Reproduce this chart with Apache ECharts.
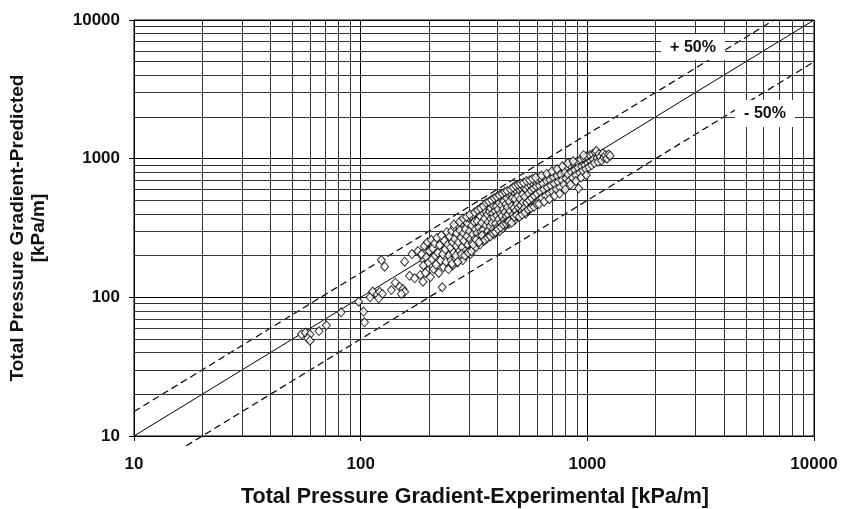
<!DOCTYPE html>
<html><head><meta charset="utf-8">
<script src="https://cdn.jsdelivr.net/npm/echarts@6/dist/echarts.min.js"></script>
<style>html,body{margin:0;padding:0;background:#fff}#c{width:842px;height:509px}</style>
</head><body><div id="c"></div>
<script>
// ---- data ----
var axisTicks = [10, 100, 1000, 10000];
var minorMultipliers = [2, 3, 4, 5, 6, 7, 8, 9];
var perfectLine = [[10, 10], [10000, 10000]];
var plus50Line = [[10, 15], [6667, 10000]];
var minus50Line = [[17, 8.5], [10000, 5000]];
var lowPoints = [[54.8,54.1],[57,55.6],[59.8,54.1],[58.4,50.6],[59.8,48.7],[65.5,57.1],[70.6,62.8],[82,78],[98,93],[103,79],[104,66],[110,100],[113,110],[118,105]];
var midPoints = [[123.4,185.8],[127.6,166.2],[156.3,180.6],[168.4,205.3],[179,215.8],[185.3,201.8],[193.6,213.3],[195,241],[189.7,185.8],[192.2,171],[164.4,143.1],[173,137.1],[183.4,144.9],[188.3,129.6],[142.2,127.4],[148.6,119.2],[153.7,114.8],[136.6,112.9],[121.3,109.7],[124.6,105.7],[120.1,98.4],[156.3,109.7],[151.2,105.7]];
var bandPoints = [
[186,205],[189,170],[191,235],[193,150],[195,195],[197,250],[199,178],[201,215],[203,140],[205,260],[206,188],[208,225],[210,160],[212,245],[213,200],[215,172],[217,268],[219,210],[221,150],[223,238],[225,185],[227,280],[229,118],[230,205],[232,165],[234,255],[236,222],[238,180],[240,295],[242,240],[244,160],[245,200],[247,275],[249,228],[250,185],
[252,300],[254,250],[255,170],[257,210],[259,320],[260,265],[262,190],[264,235],[265,290],[267,178],[269,330],[270,250],[272,215],[274,305],[275,195],[277,270],[279,345],[280,230],[282,185],[284,290],[285,255],[287,360],[289,215],[290,310],[292,200],[294,275],[295,345],[297,240],[299,375],[300,215],[302,300],[304,262],[305,205],[307,385],[309,330],[310,245],[312,285],[314,225],[315,395],[317,350],[319,265],[320,310],[322,230],[324,405],[326,290],[327,355],[329,250],[331,420],[332,320],[334,275],[336,240],[337,385],[339,300],[341,440],[342,345],[344,265],[346,410],[347,305],[349,255],[350,450],
[352,370],[354,285],[355,420],[357,330],[359,265],[360,460],[362,395],[364,300],[365,350],[367,470],[369,280],[370,415],[372,325],[374,440],[375,370],[377,290],[379,485],[380,345],[382,405],[384,310],[385,460],[387,375],[389,285],[390,500],[392,420],[394,340],[395,300],[397,455],[399,390],[400,510],[402,320],[404,430],[406,365],[408,480],[410,300],[412,525],[414,400],[416,345],[418,460],[420,385],[422,540],[424,315],[425,430],[427,495],[429,360],[431,550],[433,410],[435,330],[437,470],[439,385],[440,520],[442,350],[444,445],[446,560],[448,395],[450,340],
[453,490],[456,420],[459,565],[461,370],[464,455],[467,520],[469,395],[472,580],[475,440],[478,360],[480,510],[483,420],[486,590],[489,470],[491,385],[494,540],[497,445],[500,600],[503,400],[506,510],[509,460],[512,610],[515,420],[518,555],[521,485],[524,620],[527,440],[530,530],[534,400],[537,600],[540,480],[544,640],[547,420],[550,560],[554,500],[557,655],[561,445],[565,590],[568,520],[572,670],[576,460],[580,610],[584,540],[588,690],[592,480],[596,630],[600,560],
[605,700],[610,500],[615,640],[620,580],[625,720],[630,520],[636,660],[642,600],[648,735],[654,540],[660,690],[666,620],[672,760],[678,560],[684,705],[690,640],[696,785],[702,580],[708,735],[715,660],[722,800],[729,600],[736,750],[743,680],[750,830],[757,620],[764,770],[772,700],[780,860],[788,650],[796,800],
[805,720],[813,880],[822,770],[831,690],[840,900],[850,800],[860,730],[870,920],[880,830],[890,760],[900,950],[910,860],[915,611],[925,790],[935,990],[945,880],[955,820],[965,1010],[975,900],[985,840],[995,1040],
[1005,930],[1015,870],[1025,1060],[1035,960],[1045,900],[1055,1080],[1065,990],[1075,930],[1085,1110],[1096,1140],[1105,1010],[1115,950],[1125,1080],[1140,1030],[1155,970],[1170,1090],[1185,1020],[1200,1060],[1220,1000],[1240,1070],[1260,1050]
];
var edgePoints = [
[253,175],[258,335],[263,200],[268,180],[273,350],[278,205],[283,370],[288,200],[293,380],[298,210],[303,395],[308,215],[313,240],[318,410],[323,260],[328,425],[333,250],[338,440],[343,280],[348,455],
[353,260],[358,480],[363,270],[368,490],[373,275],[378,505],[383,290],[388,520],[393,295],[398,530],[403,310],[409,545],[415,320],[421,560],[426,335],[432,575],[438,340],[443,585],[447,350],
[452,355],[458,600],[463,345],[470,620],[476,380],[482,640],[488,390],[495,650],[501,380],[508,660],[516,395],[523,670],[531,410],[539,690],[548,430],[556,700],[564,440],[573,715],[582,450],[591,730],[599,470],
[612,470],[628,755],[645,490],[662,780],[680,510],[698,810],[716,540],[735,840],[755,560],[776,880],[798,600],[820,930],[843,650],[866,960],[890,690],[938,730],[962,1060],[990,760]
];
var labelPlus = '+ 50%';
var labelMinus = '- 50%';
var xTitle = 'Total Pressure Gradient-Experimental [kPa/m]';
var yTitle1 = 'Total Pressure Gradient-Predicted';
var yTitle2 = '[kPa/m]';

// ---- build ----
var FONT = '"Liberation Sans", Arial, Helvetica, sans-serif';
var minorVals = [];
for (var d = 0; d < axisTicks.length - 1; d++) {
  for (var m = 0; m < minorMultipliers.length; m++) minorVals.push(axisTicks[d] * minorMultipliers[m]);
}
var gridMarks = [];
minorVals.forEach(function (v) { gridMarks.push({ xAxis: v }); gridMarks.push({ yAxis: v }); });

var chart = echarts.init(document.getElementById('c'), null, { renderer: 'canvas' });
var axisCommon = {
  type: 'log', logBase: 10, min: 10, max: 10000,
  axisLine: { show: true, lineStyle: { color: '#000', width: 1 } },
  axisTick: { show: true, length: 5, lineStyle: { color: '#000' } },
  splitLine: { show: true, lineStyle: { color: '#000', width: 1 } },
  axisLabel: { color: '#111', fontFamily: FONT, fontWeight: 'bold', fontSize: 17,
    formatter: function (v) { return String(Math.round(v)); } }
};
var option = {
  animation: false,
  backgroundColor: '#fff',
  grid: { left: 134, right: 28, top: 20, bottom: 73, show: true, borderColor: '#000', borderWidth: 1 },
  xAxis: Object.assign({}, axisCommon, { axisLabel: Object.assign({}, axisCommon.axisLabel, { margin: 20 }) }),
  yAxis: Object.assign({}, axisCommon, { axisLabel: Object.assign({}, axisCommon.axisLabel, { margin: 14 }) }),
  series: [
    { type: 'line', data: [], silent: true, z: 1,
      markLine: { silent: true, symbol: 'none', label: { show: false }, animation: false,
        lineStyle: { color: '#333', width: 1, type: 'solid' }, data: gridMarks } },
    { type: 'line', data: perfectLine, showSymbol: false, symbol: 'none', z: 2,
      lineStyle: { color: '#000', width: 1 } },
    { type: 'line', data: plus50Line, showSymbol: false, symbol: 'none', z: 2, clip: false,
      lineStyle: { color: '#000', width: 1.2, type: [7, 4] } },
    { type: 'line', data: minus50Line, showSymbol: false, symbol: 'none', z: 2, clip: false,
      lineStyle: { color: '#000', width: 1.2, type: [7, 4] } },
    { type: 'scatter', data: lowPoints.concat(midPoints, bandPoints, edgePoints), symbol: 'diamond', symbolSize: [8, 9], z: 5,
      itemStyle: { color: '#fff', borderColor: '#000', borderWidth: 1 } }
  ],
  graphic: [
    { type: 'rect', shape: { x: 661, y: 34, width: 64, height: 26 }, style: { fill: '#fff' }, z: 100 },
    { type: 'text', x: 693, y: 48, z: 101, style: { text: labelPlus, font: 'bold 16px ' + FONT, fill: '#111', align: 'center', verticalAlign: 'middle' } },
    { type: 'rect', shape: { x: 735, y: 100, width: 60, height: 27 }, style: { fill: '#fff' }, z: 100 },
    { type: 'text', x: 765, y: 114, z: 101, style: { text: labelMinus, font: 'bold 16px ' + FONT, fill: '#111', align: 'center', verticalAlign: 'middle' } },
    { type: 'text', x: 475, y: 497, z: 101, style: { text: xTitle, font: 'bold 21.5px ' + FONT, fill: '#111', align: 'center', verticalAlign: 'middle' } },
    { type: 'text', x: 18, y: 228, rotation: Math.PI / 2, z: 101, style: { text: yTitle1, font: 'bold 19px ' + FONT, fill: '#111', align: 'center', verticalAlign: 'middle' } },
    { type: 'text', x: 39, y: 228, rotation: Math.PI / 2, z: 101, style: { text: yTitle2, font: 'bold 19px ' + FONT, fill: '#111', align: 'center', verticalAlign: 'middle' } }
  ]
};
chart.setOption(option);
</script>
</body></html>
